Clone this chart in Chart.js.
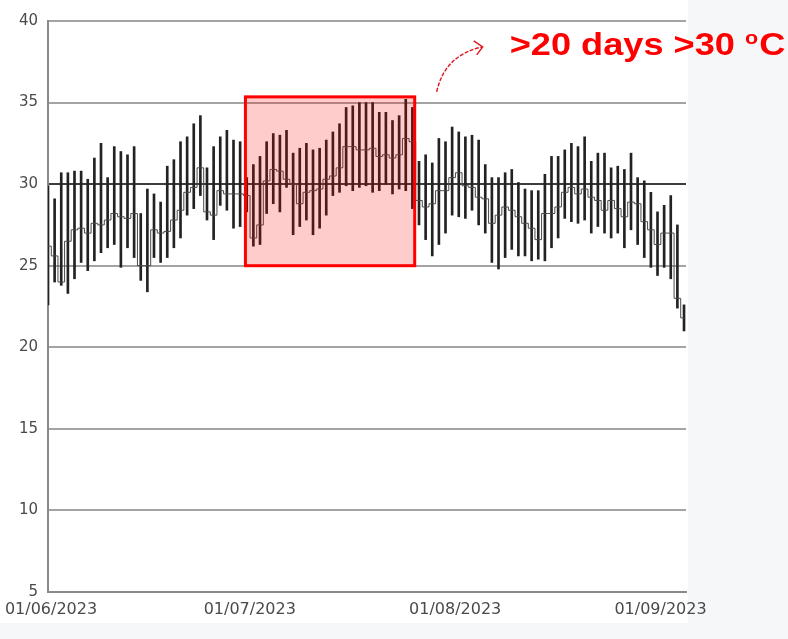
<!DOCTYPE html>
<html>
<head>
<meta charset="utf-8">
<script src="https://cdn.jsdelivr.net/npm/chart.js@4.4.1/dist/chart.umd.min.js"></script>
<style>
  html, body { margin: 0; padding: 0; background: #f6f7f8; }
  #wrap { width: 788px; height: 639px; }
</style>
</head>
<body>
<div id="wrap"><canvas id="c" width="788" height="639"></canvas></div>
<script>
// Daily air temperature, 1 June – 5 September 2023 (day 0 = 01/06/2023)
const dayIndex = [
  0,1,2,3,4,5,6,7,8,9,10,11,12,13,14,15,16,17,18,19,
  20,21,22,23,24,25,26,27,28,29,30,31,32,33,34,35,36,37,38,39,
  40,41,42,43,44,45,46,47,48,49,50,51,52,53,54,55,56,57,58,59,
  60,61,62,63,64,65,66,67,68,69,70,71,72,73,74,75,76,77,78,79,
  80,81,82,83,84,85,86,87,88,89,90,91,92,93,94,95,96
];

const tMax = [
  29.9,29.1,30.7,30.7,30.8,30.8,30.3,31.6,32.5,30.4,32.3,32.0,31.8,32.3,28.2,29.7,29.4,28.9,31.1,31.5,
  32.6,32.9,33.7,34.2,31.0,32.3,32.9,33.3,32.7,32.6,30.4,31.2,31.7,32.6,33.1,33.0,33.3,31.9,32.2,32.5,
  32.1,32.2,32.7,33.2,33.7,34.7,34.8,35.0,35.0,35.0,34.4,34.4,33.9,34.2,35.2,34.7,31.4,31.8,31.3,32.8,
  32.6,33.5,33.2,32.9,33.0,32.7,31.2,30.4,30.4,30.7,30.9,30.1,29.7,29.6,29.6,30.6,31.7,31.7,32.1,32.5,
  32.3,32.9,31.4,31.9,31.9,31.0,31.1,30.9,31.9,30.4,30.2,29.5,28.3,28.7,29.3,27.5,22.6
];

const tMin = [
  22.6,24.0,23.8,23.3,24.2,25.2,24.7,25.3,25.8,26.1,26.3,24.9,26.1,25.5,24.1,23.4,25.5,25.2,25.5,26.1,
  26.7,28.1,28.5,29.3,27.8,26.6,28.7,28.4,27.3,27.4,28.3,26.2,26.3,28.2,28.8,28.3,29.8,26.9,27.4,27.8,
  26.9,27.3,28.1,29.3,29.5,29.9,29.6,29.8,29.9,29.5,29.6,30.0,29.4,29.7,29.6,28.5,27.5,26.6,25.6,26.3,
  27.0,28.1,28.0,27.9,28.4,27.5,27.0,25.2,24.8,25.5,26.0,25.6,25.6,25.3,25.4,25.3,26.1,26.7,27.9,27.7,
  27.6,27.8,27.0,27.4,27.0,26.7,27.0,26.1,27.2,26.3,25.5,24.9,24.4,24.9,24.2,22.4,21.0
];

const tMean = [
  26.2,25.6,24.0,26.5,27.2,27.3,27.0,27.6,27.5,27.8,28.2,28.0,27.9,28.2,25.0,25.0,27.2,27.0,27.1,27.8,
  28.4,29.5,29.8,31.0,28.3,28.1,29.6,29.4,29.4,29.4,29.3,26.7,27.5,30.2,30.9,30.8,30.3,30.0,28.8,29.5,
  29.6,29.7,30.3,30.5,31.0,32.3,32.3,32.1,32.1,32.2,31.7,31.8,31.6,31.8,32.8,32.6,29.0,28.6,28.8,29.6,
  29.6,30.4,30.7,29.9,29.8,29.2,29.1,27.6,28.1,28.6,28.4,28.0,27.6,27.3,26.6,28.2,28.2,28.6,29.5,29.8,
  29.4,29.7,29.2,29.0,28.4,29.0,28.5,28.0,28.9,28.8,27.7,27.2,26.3,27.0,27.0,23.0,21.8
];

// First day of each month shown on the date axis
const tickDays = [0, 30, 61, 92];
const tickLabels = ['01/06/2023', '01/07/2023', '01/08/2023', '01/09/2023'];

// Hot spell highlighted on the chart (day range and temperature band)
const hotSpellDays = [29.8, 55.35];
const hotSpellBand = [25, 35.35];
const hotSpellText = '>20 days >30 ';

const rangeData = dayIndex.map((d, k) => ({ x: d, y: [tMin[k], tMax[k]] }));
const meanData = dayIndex.map((d, k) => ({ x: d, y: tMean[k] }));

const backdrop = {
  id: 'backdrop',
  beforeDraw(chart) {
    const { ctx, chartArea } = chart;
    ctx.save();
    ctx.fillStyle = '#ffffff';
    ctx.fillRect(0, 0, chartArea.right + 2, 623);
    ctx.restore();
  }
};

const hotSpell = {
  id: 'hotSpell',
  afterDatasetsDraw(chart) {
    const { ctx, scales: { x, y } } = chart;
    const left = x.getPixelForValue(hotSpellDays[0]);
    const right = x.getPixelForValue(hotSpellDays[1]);
    const top = y.getPixelForValue(hotSpellBand[1]);
    const bottom = y.getPixelForValue(hotSpellBand[0]);
    ctx.save();
    ctx.fillStyle = 'rgba(255, 0, 0, 0.2)';
    ctx.fillRect(left, top, right - left, bottom - top);
    ctx.strokeStyle = '#ff0000';
    ctx.lineWidth = 3;
    ctx.strokeRect(left, top, right - left, bottom - top);

    // curved pointer from the box to the caption
    const sx = right + 22, sy = top - 5;
    const ex = right + 68, ey = top - 50;
    ctx.strokeStyle = '#e0141e';
    ctx.lineWidth = 1.4;
    ctx.setLineDash([4, 1.5]);
    ctx.beginPath();
    ctx.moveTo(sx, sy);
    ctx.quadraticCurveTo(right + 30, top - 42, ex, ey);
    ctx.stroke();
    ctx.setLineDash([]);
    ctx.beginPath();
    ctx.moveTo(ex - 9, ey - 6);
    ctx.lineTo(ex, ey);
    ctx.lineTo(ex - 6, ey + 8);
    ctx.stroke();

    // caption, drawn slightly widened
    const tx = right + 95, ty = top - 42;
    ctx.translate(tx, ty);
    ctx.scale(1.13, 1);
    ctx.fillStyle = '#ff0000';
    ctx.textBaseline = 'alphabetic';
    ctx.font = 'bold 32px "Liberation Sans", Arial, sans-serif';
    ctx.fillText(hotSpellText, 0, 0);
    let w = ctx.measureText(hotSpellText).width;
    ctx.font = 'bold 19px "Liberation Sans", Arial, sans-serif';
    ctx.fillText('o', w, -11);
    w += ctx.measureText('o').width + 1;
    ctx.font = 'bold 32px "Liberation Sans", Arial, sans-serif';
    ctx.fillText('C', w, 0);
    ctx.restore();
  }
};

new Chart(document.getElementById('c'), {
  type: 'bar',
  data: {
    datasets: [
      {
        type: 'line',
        label: 'Mean',
        data: meanData,
        stepped: 'middle',
        borderColor: '#4a4a4a',
        borderWidth: 1,
        pointRadius: 0,
        fill: false
      },
      {
        label: 'Range',
        data: rangeData,
        backgroundColor: '#222222',
        borderWidth: 0,
        barThickness: 2
      }
    ]
  },
  options: {
    responsive: false,
    animation: false,
    events: [],
    layout: { padding: { top: 21, right: 102, left: 0, bottom: 0 } },
    plugins: { legend: { display: false }, tooltip: { enabled: false } },
    scales: {
      x: {
        type: 'linear',
        offset: false,
        min: 0,
        max: 96.3,
        afterBuildTicks(scale) {
          scale.ticks = tickDays.map(v => ({ value: v }));
        },
        afterFit(scale) {
          scale.height = 47;
          scale.paddingLeft = 0;
          scale.paddingRight = 0;
        },
        ticks: {
          autoSkip: false,
          maxRotation: 0,
          padding: 8,
          labelOffset: 3,
          color: '#4a4a4a',
          font: { family: '"DejaVu Sans", sans-serif', size: 16 },
          callback: (v) => tickLabels[tickDays.indexOf(v)] || ''
        },
        grid: { drawOnChartArea: false, drawTicks: false, offset: false },
        border: { color: '#8a8a8a', width: 2 }
      },
      y: {
        min: 5,
        max: 40,
        afterFit(scale) { scale.width = 48; },
        ticks: {
          stepSize: 5,
          padding: 10,
          color: '#4a4a4a',
          font: { family: '"DejaVu Sans", sans-serif', size: 15 }
        },
        grid: {
          drawTicks: false,
          lineWidth: 2,
          color: (c) => (c.tick && c.tick.value === 30 ? '#3c3c3c' : '#a3a3a3')
        },
        border: { color: '#8a8a8a', width: 2 }
      }
    }
  },
  plugins: [backdrop, hotSpell]
});
</script>
</body>
</html>
